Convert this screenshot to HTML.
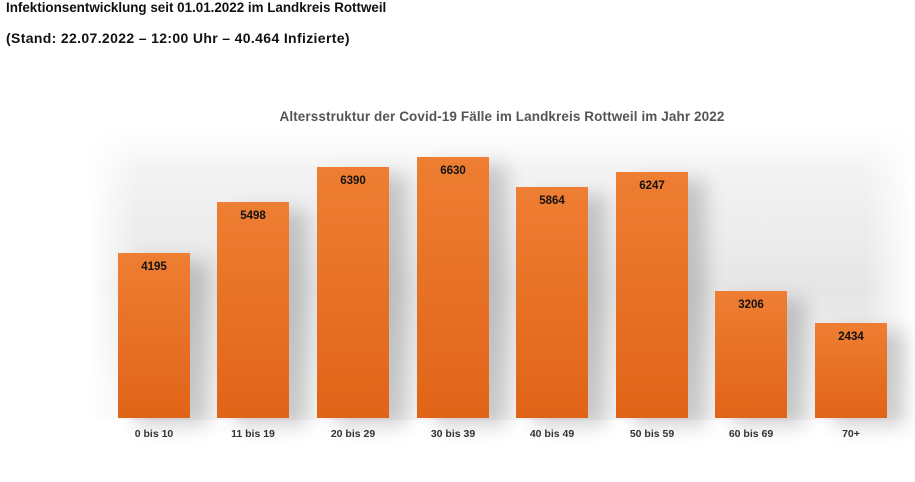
<!DOCTYPE html>
<html><head><meta charset="utf-8"><style>
body{margin:0;width:915px;height:482px;background:#fff;position:relative;overflow:hidden;font-family:"Liberation Sans",sans-serif;}
.t{position:absolute;left:6px;font-weight:bold;font-size:14px;color:#111;white-space:nowrap;}
.bg{position:absolute;left:88px;top:128px;width:827px;height:292px;background:linear-gradient(to bottom,#fff 0%,#f3f3f3 15%,#e6e6e6 55%,#eeeeee 80%,#f6f6f6 100%);}
.bg2{position:absolute;left:88px;top:128px;width:827px;height:292px;background:linear-gradient(to right,#fff 0%,rgba(255,255,255,0) 6%,rgba(255,255,255,0) 94%,#fff 100%);}
.bar{position:absolute;width:72px;background:linear-gradient(to bottom,#ee7e33,#e06418);box-shadow:18px 8px 18px rgba(0,0,0,0.18);}
.v{position:absolute;width:72px;text-align:center;font-size:11.5px;font-weight:bold;color:#111;}
.l{position:absolute;width:100px;text-align:center;font-size:10.5px;font-weight:bold;color:#333;top:428px;}
.title{position:absolute;left:0;width:1004px;top:109px;text-align:center;font-size:13.5px;letter-spacing:0.1px;font-weight:bold;color:#555;}
</style></head><body>
<div class="t" style="top:0px;font-size:13.4px">Infektionsentwicklung seit 01.01.2022 im Landkreis Rottweil</div>
<div class="t" style="top:30px;letter-spacing:0.35px">(Stand: 22.07.2022 – 12:00 Uhr – 40.464 Infizierte)</div>
<div class="bg"></div><div class="bg2"></div>
<div class="title">Altersstruktur der Covid-19 Fälle im Landkreis Rottweil im Jahr 2022</div>
<div class="bar" style="left:118px;top:253px;height:165px"></div><div class="v" style="left:118px;top:261px">4195</div><div class="l" style="left:104px">0 bis 10</div>
<div class="bar" style="left:217px;top:202px;height:216px"></div><div class="v" style="left:217px;top:210px">5498</div><div class="l" style="left:203px">11 bis 19</div>
<div class="bar" style="left:317px;top:167px;height:251px"></div><div class="v" style="left:317px;top:175px">6390</div><div class="l" style="left:303px">20 bis 29</div>
<div class="bar" style="left:417px;top:157px;height:261px"></div><div class="v" style="left:417px;top:165px">6630</div><div class="l" style="left:403px">30 bis 39</div>
<div class="bar" style="left:516px;top:187px;height:231px"></div><div class="v" style="left:516px;top:195px">5864</div><div class="l" style="left:502px">40 bis 49</div>
<div class="bar" style="left:616px;top:172px;height:246px"></div><div class="v" style="left:616px;top:180px">6247</div><div class="l" style="left:602px">50 bis 59</div>
<div class="bar" style="left:715px;top:291px;height:127px"></div><div class="v" style="left:715px;top:299px">3206</div><div class="l" style="left:701px">60 bis 69</div>
<div class="bar" style="left:815px;top:323px;height:95px"></div><div class="v" style="left:815px;top:331px">2434</div><div class="l" style="left:801px">70+</div>
</body></html>
